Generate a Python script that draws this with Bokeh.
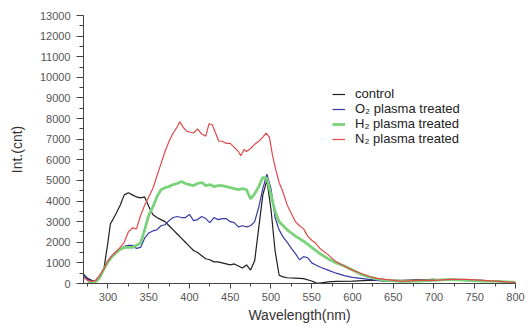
from bokeh.plotting import figure
from bokeh.models import Range1d, Legend, LegendItem, FixedTicker, NumeralTickFormatter
from bokeh.embed import file_html
from bokeh.resources import INLINE

# ---- data ----
ctrl_wl = [270, 275, 280, 285, 290, 295, 300, 303, 306, 310, 315, 320, 325, 330, 335, 340, 345, 350, 355,
           360, 365, 370, 375, 380, 385, 390, 395, 400, 405, 410, 415, 420, 425, 430, 435, 440, 445, 450,
           455, 460, 465, 470, 475, 480, 485, 490, 495, 500, 505, 510, 515, 520, 530, 540, 550, 555, 560,
           570, 580, 600, 620, 640, 660, 680, 700, 720, 740, 760, 780, 800]
ctrl_val = [450, 250, 150, 100, 250, 700, 2000, 2900, 3100, 3400, 3800, 4300, 4400, 4300, 4200, 4150, 4200,
            3750, 3350, 3200, 3100, 3000, 2800, 2600, 2400, 2200, 2000, 1800, 1600, 1500, 1350, 1200, 1150,
            1050, 1050, 1000, 950, 900, 950, 850, 750, 900, 650, 1100, 2700, 4300, 5000, 3600, 1600, 400,
            320, 280, 260, 240, 120, 30, 20, 80, 100, 120, 150, 160, 150, 180, 200, 150, 180, 120, 100, 50]

o2_wl = [270, 275, 280, 285, 290, 295, 300, 305, 310, 315, 320, 325, 330, 335, 340, 345, 350, 355, 360, 365,
         370, 375, 380, 385, 390, 395, 400, 405, 410, 415, 420, 425, 430, 435, 440, 445, 450, 455, 460, 465,
         470, 475, 480, 485, 490, 495, 500, 505, 510, 515, 520, 525, 530, 535, 540, 545, 550, 555, 560, 570,
         580, 590, 600, 610, 620, 630, 640, 660, 680, 700, 720, 740, 760, 780, 800]
o2_val = [400, 200, 120, 150, 400, 700, 1100, 1350, 1500, 1650, 1800, 1850, 1850, 1700, 1750, 2200, 2450,
          2550, 2600, 2800, 2850, 3050, 3200, 3250, 3200, 3200, 3350, 3050, 3100, 3250, 3150, 2950, 3200,
          3100, 3150, 3150, 3000, 2950, 2750, 2800, 2750, 2800, 3000, 3700, 4600, 5300, 4600, 3200, 2600,
          2250, 2000, 1700, 1450, 1150, 1300, 1250, 1000, 900, 800, 650, 500, 380, 300, 250, 200, 150, 100,
          100, 150, 150, 200, 180, 150, 100, 50]

h2_wl = [275, 280, 285, 290, 295, 300, 305, 310, 315, 320, 325, 330, 335, 340, 345, 350, 355, 360, 365, 370,
         375, 380, 385, 390, 395, 400, 405, 410, 415, 420, 425, 430, 435, 440, 445, 450, 455, 460, 465, 470,
         475, 480, 485, 490, 495, 500, 505, 510, 515, 520, 525, 530, 540, 550, 560, 570, 580, 590, 600, 610,
         620, 630, 640, 660, 680, 700, 720, 740, 760, 780, 800]
h2_val = [50, 30, 80, 300, 700, 1050, 1300, 1500, 1650, 1750, 1750, 1750, 1850, 1950, 2600, 3300, 3700, 4200,
          4550, 4650, 4700, 4800, 4850, 4950, 4850, 4800, 4750, 4850, 4900, 4750, 4800, 4700, 4750, 4750,
          4700, 4650, 4600, 4550, 4600, 4550, 4100, 4350, 4700, 5150, 5100, 4300, 3500, 3000, 2800, 2600,
          2450, 2300, 2050, 1750, 1450, 1200, 1000, 850, 650, 450, 320, 220, 150, 100, 120, 150, 200, 150,
          120, 100, 50]

n2_wl = [270, 275, 280, 285, 290, 295, 300, 305, 310, 315, 320, 325, 330, 335, 340, 345, 350, 355, 360, 365,
         370, 375, 380, 385, 388, 392, 396, 400, 405, 410, 415, 420, 424, 428, 432, 436, 440, 445, 450, 455,
         460, 463, 467, 470, 475, 480, 485, 490, 494, 498, 502, 506, 510, 515, 520, 525, 530, 535, 540, 545,
         550, 555, 560, 570, 580, 590, 600, 610, 620, 630, 640, 650, 660, 680, 700, 720, 740, 760, 780, 800]
n2_val = [300, 150, 100, 150, 400, 700, 1100, 1350, 1550, 1750, 2000, 2500, 2700, 2650, 3300, 3800, 4200,
          4600, 5200, 5800, 6400, 6900, 7300, 7600, 7850, 7600, 7400, 7350, 7300, 7500, 7250, 7150, 7750,
          7700, 7300, 6900, 6900, 6800, 6800, 6600, 6400, 6200, 6500, 6400, 6550, 6750, 6900, 7100, 7300,
          7100, 6200, 5500, 4900, 4400, 3800, 3400, 3000, 2800, 2650, 2300, 2100, 1950, 1700, 1400, 1050,
          850, 650, 500, 350, 250, 200, 150, 100, 150, 150, 200, 200, 150, 100, 50]

legend_labels = ["control", "O\u2082 plasma treated", "H\u2082 plasma treated", "N\u2082 plasma treated"]
x_ticks = [300, 350, 400, 450, 500, 550, 600, 650, 700, 750, 800]
y_ticks = list(range(0, 13001, 1000))

FONT = "Liberation Sans"

p = figure(width=530, height=326, output_backend="svg", toolbar_location=None,
           x_range=Range1d(270, 800), y_range=Range1d(0, 13000),
           min_border_left=83, min_border_right=15, min_border_top=15, min_border_bottom=43)
p.outline_line_color = None
p.xgrid.grid_line_color = None
p.ygrid.grid_line_color = None
p.background_fill_color = "white"

r_ctrl = p.line(ctrl_wl, ctrl_val, line_color="#1e1e1e", line_width=1.2)
r_o2 = p.line(o2_wl, o2_val, line_color="#3a3aa8", line_width=1.2)
r_h2 = p.line(h2_wl, h2_val, line_color="#7ad27a", line_width=2.8)
r_n2 = p.line(n2_wl, n2_val, line_color="#e04a4a", line_width=1.2)

for ax in (p.xaxis[0], p.yaxis[0]):
    ax.axis_line_color = "#444444"
    ax.major_tick_line_color = "#444444"
    ax.minor_tick_line_color = "#444444"
    ax.major_label_text_font = FONT
    ax.major_label_text_font_size = "11px"
    ax.major_label_text_color = "#555555"
    ax.axis_label_text_font = FONT
    ax.axis_label_text_font_style = "normal"
    ax.axis_label_text_color = "#333333"
    ax.axis_label_text_font_size = "14px"

p.xaxis.ticker = FixedTicker(ticks=x_ticks, minor_ticks=[275 + 25 * i for i in range(21)])
p.yaxis.ticker = FixedTicker(ticks=y_ticks, minor_ticks=[500 * i for i in range(27)])
p.yaxis.formatter = NumeralTickFormatter(format="0")
p.xaxis.major_tick_out = 5
p.xaxis.major_tick_in = 0
p.xaxis.minor_tick_out = 3
p.xaxis.minor_tick_in = 0
p.yaxis.major_tick_out = 7
p.yaxis.major_tick_in = 0
p.yaxis.minor_tick_out = 4
p.yaxis.minor_tick_in = 0
p.xaxis.major_label_standoff = 4
p.yaxis.major_label_standoff = 6
p.xaxis.axis_label = "Wavelength(nm)"
p.xaxis.axis_label_standoff = 3
p.yaxis.axis_label = "Int.(cnt)"
p.yaxis.axis_label_standoff = 12

legend = Legend(items=[LegendItem(label=legend_labels[0], renderers=[r_ctrl]),
                       LegendItem(label=legend_labels[1], renderers=[r_o2]),
                       LegendItem(label=legend_labels[2], renderers=[r_h2]),
                       LegendItem(label=legend_labels[3], renderers=[r_n2])],
                location=(249, 137), padding=0, margin=0, spacing=0,
                glyph_width=13, glyph_height=12, label_height=12, label_standoff=10,
                border_line_color=None, background_fill_alpha=0,
                label_text_font=FONT, label_text_font_size="13px", label_text_color="#222222")
p.add_layout(legend, "center")

open("out.html", "w").write(file_html(p, INLINE))
